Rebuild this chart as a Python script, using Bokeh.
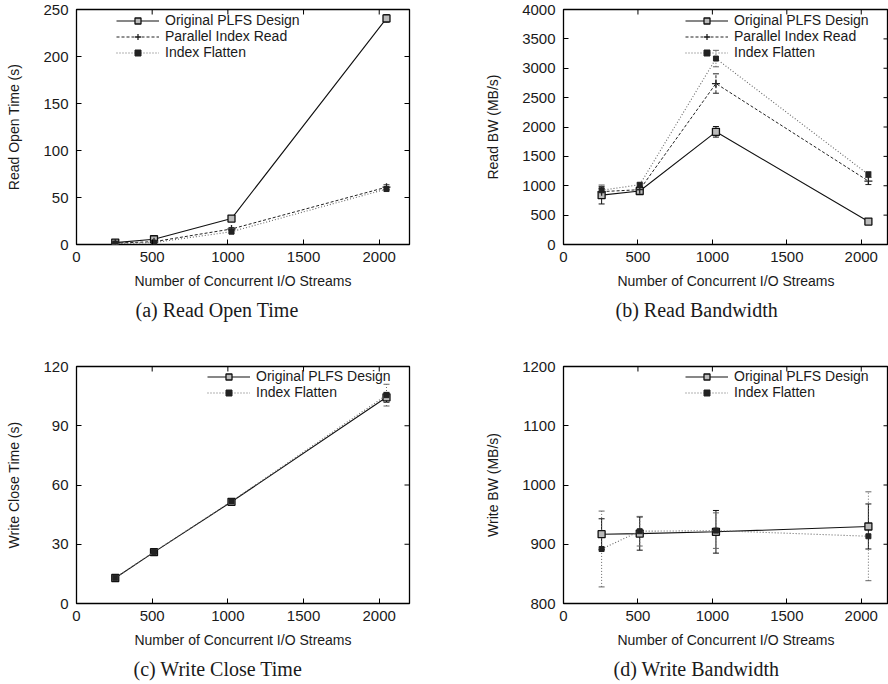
import math
from bokeh.plotting import figure
from bokeh.models import (Range1d, FixedTicker, Title, Legend, LegendItem,
                          Whisker, TeeHead, ColumnDataSource)
from bokeh.layouts import gridplot
from bokeh.embed import file_html
from bokeh.resources import INLINE

# ---------------- data ----------------
streams = [256, 512, 1024, 2048]
x_ticks = [0, 500, 1000, 1500, 2000]
x_label = "Number of Concurrent I/O Streams"

series_names = ["Original PLFS Design", "Parallel Index Read", "Index Flatten"]

# (a) Read Open Time (s)
open_orig = [2.0, 5.6, 27.6, 240.5]
open_orig_err = [1.0, 1.2, 1.8, 4.0]
open_par = [1.5, 3.0, 16.5, 61.0]
open_par_err = [0.5, 0.8, 1.5, 2.5]
open_flat = [1.0, 2.0, 13.6, 59.0]
open_flat_err = [0.5, 0.6, 1.5, 2.0]
open_ticks = [0, 50, 100, 150, 200, 250]

# (b) Read BW (MB/s)
rbw_orig = [840, 911, 1918, 391]
rbw_orig_err = [150, 30, 90, 20]
rbw_par = [900, 933, 2740, 1080]
rbw_par_err = [60, 30, 165, 60]
rbw_flat = [923, 1017, 3165, 1191]
rbw_flat_err = [90, 30, 140, 50]
rbw_ticks = [0, 500, 1000, 1500, 2000, 2500, 3000, 3500, 4000]

# (c) Write Close Time (s)
close_orig = [12.9, 26.0, 51.5, 104.4]
close_orig_err = [0.6, 0.6, 0.8, 2.5]
close_flat = [13.0, 26.1, 51.7, 105.5]
close_flat_err = [0.6, 0.6, 0.8, 5.5]
close_ticks = [0, 30, 60, 90, 120]

# (d) Write BW (MB/s)
wbw_orig = [917, 918, 921, 930]
wbw_orig_err = [26, 28, 36, 38]
wbw_flat = [892, 922, 923, 913.5]
wbw_flat_err = [64, 25, 30, 75]
wbw_ticks = [800, 900, 1000, 1100, 1200]

# ---------------- styles ----------------
SANS = "Liberation Sans"
SERIF = "Liberation Serif"
TXT = "#1a1a1a"
STYLES = {
    "Original PLFS Design": dict(color="#111111", dash="solid", marker="square", size=7,
                                 fill=None, width=1.1),
    "Parallel Index Read": dict(color="#222222", dash="3 2", marker="cross", size=8,
                                fill=None, width=1.0),
    "Index Flatten": dict(color="#666666", dash="1 2", marker="square", size=5,
                          fill="#222222", width=1.1),
}


def style_axis(ax):
    ax.major_tick_in = 5
    ax.major_tick_out = 0
    ax.minor_tick_in = 0
    ax.minor_tick_out = 0
    ax.axis_line_color = None
    ax.major_tick_line_color = "black"
    ax.major_label_text_font = SANS
    ax.major_label_text_font_size = "15px"
    ax.major_label_text_color = TXT
    ax.axis_label_text_font = SANS
    ax.axis_label_text_font_size = "14px"
    ax.axis_label_text_font_style = "normal"
    ax.axis_label_text_color = TXT


def panel(width, height, x_end, y_ticks, y_label, caption, mb, cap_offset,
          series, legend_xy):
    y0, y1 = y_ticks[0], y_ticks[-1]
    p = figure(width=width, height=height, output_backend="svg", toolbar_location=None,
               x_range=Range1d(0, x_end), y_range=Range1d(y0, y1),
               min_border_left=mb[0], min_border_right=mb[1],
               min_border_top=mb[2], min_border_bottom=mb[3],
               background_fill_color="white", border_fill_color="white")
    p.grid.visible = False
    p.outline_line_color = "black"
    p.outline_line_width = 1.3
    p.outline_line_alpha = 1.0
    p.xaxis.ticker = FixedTicker(ticks=x_ticks)
    p.yaxis.ticker = FixedTicker(ticks=y_ticks)
    for ax in p.xaxis + p.yaxis:
        style_axis(ax)
    p.xaxis.axis_label = x_label
    p.yaxis.axis_label = y_label
    p.xaxis.major_label_standoff = 7
    p.xaxis.axis_label_standoff = 8
    p.yaxis.major_label_standoff = 8
    p.yaxis.axis_label_standoff = 18

    # mirrored inward ticks on top and right edges (clipped to the frame)
    p.scatter(x=x_ticks, y=[y1] * len(x_ticks), marker="dash", angle=math.pi / 2,
              size=10, line_color="black", line_width=1)
    p.scatter(x=[x_end] * len(y_ticks), y=y_ticks, marker="dash",
              size=10, line_color="black", line_width=1)

    items = []
    for name, vals, errs in series:
        st = STYLES[name]
        src = ColumnDataSource(dict(x=streams, y=vals,
                                    lo=[v - e for v, e in zip(vals, errs)],
                                    hi=[v + e for v, e in zip(vals, errs)]))
        lr = p.line("x", "y", source=src, line_color=st["color"], line_dash=st["dash"],
                    line_width=st["width"])
        w = Whisker(source=src, base="x", lower="lo", upper="hi", dimension="height",
                    line_color=st["color"], line_dash=st["dash"], line_width=1.0,
                    lower_head=TeeHead(size=6, line_color=st["color"], line_width=1.0),
                    upper_head=TeeHead(size=6, line_color=st["color"], line_width=1.0))
        p.add_layout(w)
        if st["fill"] is None:
            sr = p.scatter("x", "y", source=src, marker=st["marker"], size=st["size"],
                           line_color=st["color"],
                           fill_color="#bbbbbb" if st["marker"] == "square" else None,
                           line_width=1.3)
        else:
            sr = p.scatter("x", "y", source=src, marker=st["marker"], size=st["size"],
                           line_color=st["fill"], fill_color=st["fill"], line_width=1.0)
        items.append(LegendItem(label=name, renderers=[lr, sr]))

    leg = Legend(items=items, location=legend_xy, background_fill_alpha=0,
                 border_line_color=None, padding=2, margin=0, spacing=0,
                 label_height=15, glyph_height=15, glyph_width=43, label_standoff=6,
                 label_text_font=SANS, label_text_font_size="14px", label_text_color=TXT)
    p.add_layout(leg)

    t = Title(text=caption, align="left", offset=cap_offset, text_font=SERIF,
              text_font_size="20px", text_font_style="normal", text_color=TXT, standoff=10)
    p.add_layout(t, "below")
    return p


pa = panel(444, 342, 2200, open_ticks, "Read Open Time (s)", "(a) Read Open Time",
           (76, 34, 9, 98), 59,
           [(series_names[0], open_orig, open_orig_err),
            (series_names[1], open_par, open_par_err),
            (series_names[2], open_flat, open_flat_err)], (40, 184))
pb = panel(444, 342, 2183, rbw_ticks, "Read BW (MB/s)", "(b) Read Bandwidth",
           (119, 0, 9, 98), 52,
           [(series_names[0], rbw_orig, rbw_orig_err),
            (series_names[1], rbw_par, rbw_par_err),
            (series_names[2], rbw_flat, rbw_flat_err)], (122, 184))
pc = panel(444, 342, 2200, close_ticks, "Write Close Time (s)", "(c) Write Close Time",
           (75, 35, 24, 80), 57,
           [(series_names[0], close_orig, close_orig_err),
            (series_names[2], close_flat, close_flat_err)], (131, 203))
pd_ = panel(444, 342, 2183, wbw_ticks, "Write BW (MB/s)", "(d) Write Bandwidth",
            (119, 0, 24, 80), 50,
            [(series_names[0], wbw_orig, wbw_orig_err),
             (series_names[2], wbw_flat, wbw_flat_err)], (122, 203))

grid = gridplot([[pa, pb], [pc, pd_]], toolbar_location=None)

open("out.html", "w").write(file_html(grid, INLINE))
